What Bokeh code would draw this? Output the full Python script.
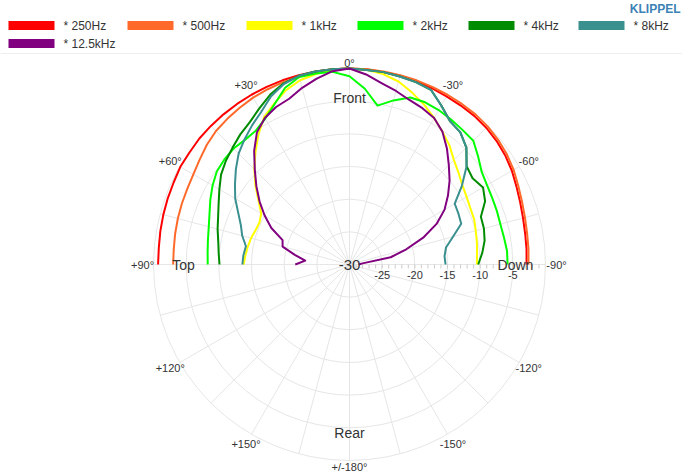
import numpy as np
from bokeh.plotting import figure
from bokeh.models import Range1d
from bokeh.core.properties import value
from bokeh.embed import file_html
from bokeh.resources import INLINE

# ---------------- data ----------------
angles = [90, 85, 80, 75, 70, 65, 60, 55, 50, 45, 40, 35, 30, 25, 20, 15, 10, 5, 0,
          -5, -10, -15, -20, -25, -30, -35, -40, -45, -50, -55, -60, -65, -70, -75, -80, -85, -90]

series_names = ["* 250Hz", "* 500Hz", "* 1kHz", "* 2kHz", "* 4kHz", "* 8kHz", "* 12.5kHz"]
series_colors = ["#ff0000", "#ff6a2b", "#ffff00", "#00ff00", "#008c00", "#3a8f8f", "#800080"]

spl_250 = [-0.7, -0.7, -0.6, -0.5, -0.4, -0.3, -0.1, -0.1, 0.0, 0.0, 0.0, 0.0, 0.0, 0.0, 0.0, 0.0, 0.0, 0.0, 0.0,
           0.0, -0.1, -0.1, -0.1, -0.2, -0.3, -0.3, -0.3, -0.4, -0.6, -0.9, -1.3, -1.8, -2.2, -2.5, -2.7, -2.8, -2.9]
spl_500 = [-3.0, -3.0, -2.9, -2.8, -2.7, -2.6, -2.4, -2.0, -1.5, -1.1, -0.9, -0.7, -0.5, -0.4, -0.3, -0.2, -0.1, 0.0, 0.0,
           0.0, 0.0, 0.0, 0.0, 0.0, 0.0, 0.0, 0.0, -0.1, -0.3, -0.6, -1.0, -1.5, -1.9, -2.2, -2.4, -2.5, -2.6]
spl_1k = [-13.8, -14.0, -14.2, -14.4, -14.7, -14.8, -14.4, -13.0, -11.2, -9.4, -7.6, -5.7, -3.9, -2.8, -1.6, -0.8, -0.4, -0.1, 0.0,
          -0.1, -0.4, -1.0, -2.0, -3.0, -4.1, -5.2, -6.2, -7.4, -8.2, -8.9, -9.3, -9.6, -9.7, -10.0, -10.2, -10.4, -10.5]
spl_2k = [-8.3, -8.2, -8.0, -7.7, -7.2, -6.5, -5.8, -5.2, -5.0, -4.9, -5.1, -5.0, -4.2, -2.9, -1.2, -0.3, -0.3, -0.4, -1.2,
          -3.0, -5.3, -4.0, -2.8, -2.6, -2.7, -2.9, -3.1, -3.2, -4.3, -5.3, -5.7, -5.9, -6.0, -6.1, -6.0, -5.8, -5.8]
spl_4k = [-10.1, -9.9, -9.6, -9.1, -8.6, -7.9, -7.0, -6.0, -5.3, -4.7, -4.0, -3.4, -2.4, -1.3, -0.5, -0.1, 0.0, 0.0, 0.0,
          -0.1, -0.1, -0.2, -0.3, -0.5, -1.9, -3.2, -3.6, -4.7, -6.6, -7.0, -6.4, -7.1, -8.6, -8.7, -9.0, -9.6, -10.3]
spl_8k = [-13.6, -13.7, -13.9, -13.0, -12.3, -11.2, -9.8, -8.6, -7.3, -6.0, -5.0, -4.0, -3.0, -1.6, -0.6, -0.1, 0.0, 0.0, 0.0,
          -0.1, -0.1, -0.2, -0.3, -0.5, -1.9, -3.2, -3.6, -4.7, -6.6, -9.0, -11.4, -11.6, -11.8, -13.6, -15.0, -15.4, -15.3]
spl_12k5 = [-21.7, -23.2, -21.5, -19.4, -19.1, -16.8, -15.0, -13.2, -11.4, -9.5, -7.3, -5.3, -4.1, -3.4, -3.0, -2.0, -1.1, -0.3, 0.0,
            -0.8, -1.8, -2.5, -3.2, -3.6, -4.1, -5.2, -6.8, -8.5, -10.0, -11.6, -13.2, -15.3, -18.0, -21.0, -23.6, -28.0, -28.6]
series_values = [spl_250, spl_500, spl_1k, spl_2k, spl_4k, spl_8k, spl_12k5]

radial_ticks = [-25, -20, -15, -10, -5]
angle_ticks = [0, 30, 60, 90, 120, 150, 180, -150, -120, -90, -60, -30]
angle_labels = ["0°", "+30°", "+60°", "+90°", "+120°", "+150°", "+/-180°", "-150°", "-120°", "-90°", "-60°", "-30°"]
region_labels = ["Front", "Top", "Down", "Rear"]
region_angles = [0, 90, -90, 180]

# ---------------- geometry ----------------
R = 196.0
DB_MIN, DB_MAX = -30.0, 0.0
CX, CY = 349.0, 264.0   # page pixel position of the pole
FONT = value("Liberation Sans")


def rad(db):
    return (np.asarray(db, dtype=float) - DB_MIN) / (DB_MAX - DB_MIN) * R


def polar(theta_deg, r):
    t = np.radians(np.asarray(theta_deg, dtype=float))
    return -r * np.sin(t), r * np.cos(t)


def page(px, py):
    return px - CX, CY - py


W, H = 682, 473
p = figure(width=W, height=H,
           x_range=Range1d(-CX, W - CX), y_range=Range1d(CY - H, CY),
           output_backend="svg", toolbar_location=None, min_border=0,
           x_axis_location=None, y_axis_location=None)
p.grid.visible = False
p.outline_line_color = None
p.background_fill_color = "white"

# separator line under legend
sx0, sy = page(0, 53)
sx1, _ = page(682, 53)
p.line([sx0, sx1], [sy, sy], line_color="#eeeeee", line_width=1)

# grid circles
grid_db = [-25, -20, -15, -10, -5, 0]
p.circle(x=[0] * len(grid_db), y=[0] * len(grid_db), radius=list(rad(grid_db)),
         fill_color=None, line_color="#e6e6e6", line_width=1)
# spokes every 15 deg
spoke_angles = np.arange(0, 360, 15)
xs, ys = [], []
for a in spoke_angles:
    ex, ey = polar(a, R)
    xs.append([0, float(ex)])
    ys.append([0, float(ey)])
p.multi_line(xs, ys, line_color="#e6e6e6", line_width=1)

# minor ticks along the radial axis (towards -90)
tick_db = np.arange(-29, 0, 1)
tx = rad(tick_db)
p.segment(x0=tx, y0=np.zeros_like(tx), x1=tx, y1=np.full_like(tx, -4.0), line_color="#cccccc", line_width=1)

# curves
for vals, col in zip(series_values, series_colors):
    x, y = polar(angles, rad(vals))
    p.line(x, y, line_color=col, line_width=2, line_join="round")

# radial tick labels
rx = rad(radial_ticks)
p.text(x=rx, y=np.full_like(rx, -10.0), text=[str(v) for v in radial_ticks],
       text_font=FONT, text_font_size="11px", text_color="#333333",
       text_align="center", text_baseline="middle")
# pole label
p.text(x=[0], y=[0], text=["-30"], text_font=FONT, text_font_size="15px", text_color="#333333",
       text_align="center", text_baseline="middle")

# angle labels
lab_r = np.array([R + 6 if a in (0, 180) else R + 11 for a in angle_ticks])
ax, ay = polar(angle_ticks, lab_r)
p.text(x=ax, y=ay, text=angle_labels, text_font=FONT, text_font_size="11px", text_color="#333333",
       text_align="center", text_baseline="middle")

# region labels
reg_r = np.array([167.0, 166.0, 166.0, 168.0])
gx, gy = polar(region_angles, reg_r)
p.text(x=gx, y=gy, text=region_labels, text_font=FONT, text_font_size="14px", text_color="#333333",
       text_align="center", text_baseline="middle")

# legend (manual, Highcharts-like)
leg_px = [8, 127, 246, 357, 468, 578, 8]
leg_py = [25, 25, 25, 25, 25, 25, 43]
for name, col, lx, ly in zip(series_names, series_colors, leg_px, leg_py):
    x0, y0 = page(lx, ly)
    p.rect(x=[x0 + 23], y=[y0], width=46, height=9, fill_color=col, line_color=None)
    p.text(x=[x0 + 55], y=[y0], text=[name], text_font=FONT, text_font_size="12px",
           text_color="#333333", text_align="left", text_baseline="middle")

kx, ky = page(680, 8)
p.text(x=[kx], y=[ky], text=["KLIPPEL"], text_font=FONT, text_font_size="12px",
       text_font_style="bold", text_color="#3d82b5", text_align="right", text_baseline="middle")

open("out.html", "w").write(file_html(p, INLINE))
